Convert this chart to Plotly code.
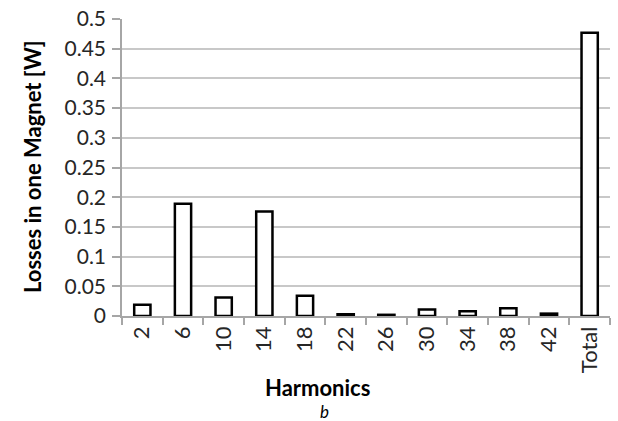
import plotly.graph_objects as go

categories = ["2", "6", "10", "14", "18", "22", "26", "30", "34", "38", "42", "Total"]
losses = [0.019, 0.189, 0.031, 0.176, 0.034, 0.003, 0.002, 0.011, 0.008, 0.013, 0.004, 0.477]

y_title = "Losses in one Magnet [W]"
x_title = "Harmonics"
caption = "b"

FONT = "Lato"
grid = "#c8c8c8"
axis = "#a6a6a6"

fig = go.Figure(
    go.Bar(
        x=categories,
        y=losses,
        marker=dict(color="white", line=dict(color="black", width=2.5)),
        width=0.4,
    )
)

fig.update_layout(
    width=618,
    height=421,
    paper_bgcolor="white",
    plot_bgcolor="white",
    margin=dict(l=122, r=8, t=19, b=105, autoexpand=False),
    showlegend=False,
    font=dict(family=FONT, color="#262626"),
    bargap=0.6,
)

fig.update_xaxes(
    type="category",
    automargin=False,
    tickangle=-90,
    tickfont=dict(size=22, family=FONT, color="#262626"),
    showline=True,
    linecolor=axis,
    linewidth=1.5,
    ticks="outside",
    tickson="boundaries",
    ticklen=7,
    tickcolor=axis,
    tickwidth=1.5,
    showgrid=False,
)

fig.update_yaxes(
    range=[0, 0.5],
    automargin=False,
    dtick=0.05,
    tick0=0,
    tickfont=dict(size=21, family=FONT, color="#262626"),
    showline=True,
    linecolor=axis,
    linewidth=1.5,
    ticks="outside",
    ticklen=8,
    tickcolor=axis,
    tickwidth=1.5,
    showgrid=True,
    gridcolor=grid,
    gridwidth=1.5,
    zeroline=False,
    ticklabelstandoff=2,
)

fig.add_annotation(
    text=f"<b>{y_title}</b>", xref="paper", yref="paper", x=-0.182, y=0.502,
    xanchor="center", yanchor="middle", textangle=-90, showarrow=False,
    font=dict(size=22, family=FONT, color="#000000"),
)
fig.add_annotation(
    text=f"<b>{x_title}</b>", xref="paper", yref="paper", x=0.3996, y=-0.2424,
    xanchor="center", yanchor="middle", showarrow=False,
    font=dict(size=22, family=FONT, color="#000000"),
)
fig.add_annotation(
    text=f"<i>{caption}</i>", xref="paper", yref="paper", x=0.414, y=-0.323,
    xanchor="center", yanchor="middle", showarrow=False,
    font=dict(size=17, family=FONT, color="#000000"),
)

fig.write_html(
    "out.html",
    config={"displayModeBar": False},
    post_script="document.body.style.margin='0';document.body.style.overflow='hidden';",
)
